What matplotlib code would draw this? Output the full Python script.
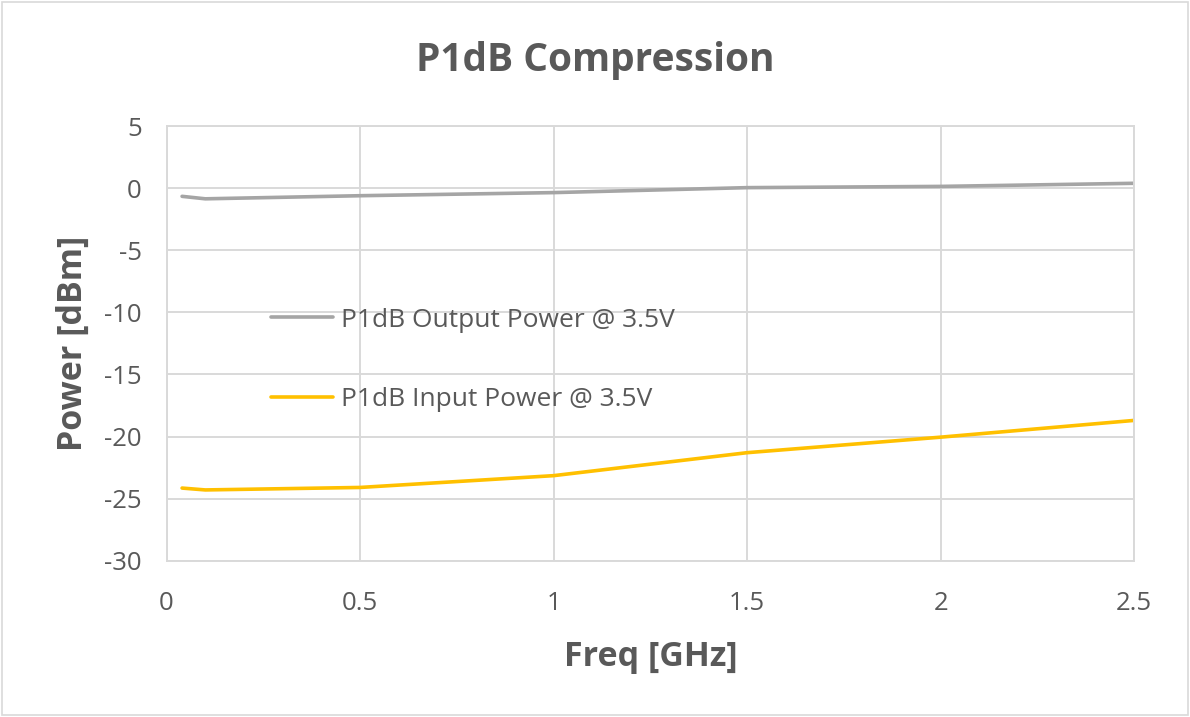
import matplotlib.pyplot as plt
from matplotlib.patches import Rectangle

plt.rcParams['font.family'] = ['Open Sans', 'DejaVu Sans']
plt.rcParams['axes.unicode_minus'] = False

freq = [0.04, 0.1, 0.5, 1.0, 1.5, 2.0, 2.5]
p_out = [-0.65, -0.85, -0.6, -0.35, 0.05, 0.15, 0.4]
p_in = [-24.15, -24.3, -24.1, -23.15, -21.3, -20.05, -18.7]
xticks = [0, 0.5, 1, 1.5, 2, 2.5]
xticklabels = ['0', '0.5', '1', '1.5', '2', '2.5']
yticks = [-30, -25, -20, -15, -10, -5, 0, 5]

txt = '#595959'
grid = '#d9d9d9'

fig = plt.figure(figsize=(11.9, 7.17), dpi=100)
fig.patches.append(Rectangle((0.002, 0.003), 0.996, 0.994, transform=fig.transFigure,
                             fill=False, edgecolor='#d9d9d9', linewidth=1.2))
ax = fig.add_axes([0.140, 0.218, 0.813, 0.606])

ax.plot(freq, p_out, color='#a5a5a5', linewidth=2.6, label='P1dB Output Power @ 3.5V',
        solid_capstyle='round', solid_joinstyle='round')
ax.plot(freq, p_in, color='#ffc000', linewidth=2.6, label='P1dB Input Power @ 3.5V',
        solid_capstyle='round', solid_joinstyle='round')

ax.set_xlim(0, 2.5)
ax.set_ylim(-30, 5)
ax.set_xticks(xticks)
ax.set_xticklabels(xticklabels)
ax.set_yticks(yticks)
ax.grid(True, color=grid, linewidth=1.4)
ax.set_axisbelow(True)
for s in ax.spines.values():
    s.set_color(grid)
    s.set_linewidth(1.4)
ax.tick_params(length=0, labelsize=18.5, labelcolor=txt)
ax.tick_params(axis='x', pad=22)
ax.tick_params(axis='y', pad=18)

ax.set_xlabel('Freq [GHz]', fontsize=24.5, fontweight='bold', color=txt, labelpad=17)
ax.set_ylabel('Power [dBm]', fontsize=24.5, fontweight='bold', color=txt, labelpad=10)
fig.text(0.50, 0.915, 'P1dB Compression', ha='center', va='center',
         fontsize=28, fontweight='bold', color=txt)

leg = ax.legend(loc='upper left', bbox_to_anchor=(0.094, 0.613), frameon=False,
                fontsize=19, labelcolor=txt, handlelength=2.35, handletextpad=0.3,
                labelspacing=2.06, borderpad=0)

fig.savefig('out.png', dpi=100)
